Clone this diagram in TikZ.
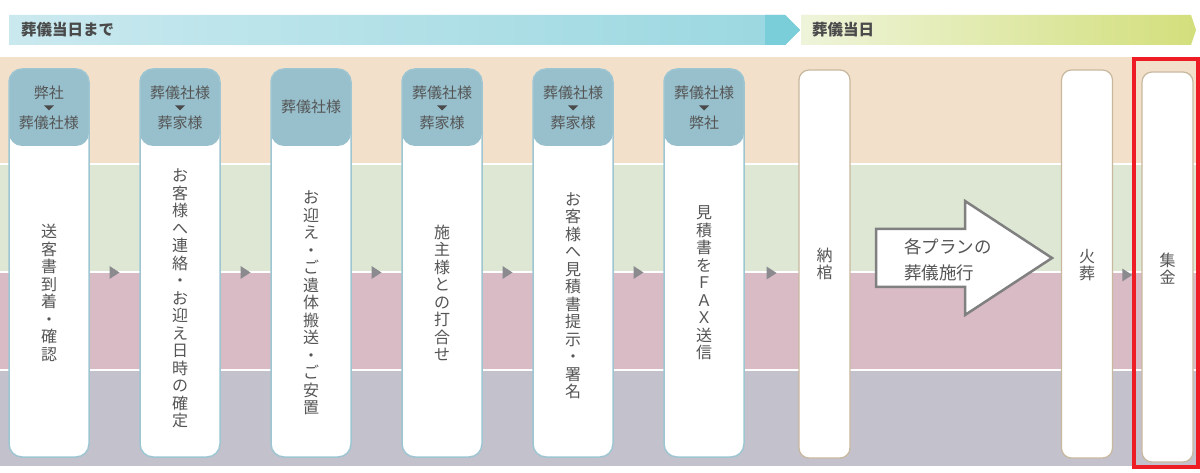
\documentclass[tikz,border=0pt]{standalone}
\usepackage{fontspec}
\setmainfont{Noto Sans CJK JP}
\usetikzlibrary{calc}
\definecolor{bandA}{HTML}{F2E0CB}
\definecolor{bandB}{HTML}{DDE7D3}
\definecolor{bandC}{HTML}{D9BBC6}
\definecolor{bandD}{HTML}{C3C1CC}
\definecolor{colh}{HTML}{97BFCC}
\definecolor{colb}{HTML}{9DC6D2}
\definecolor{tanc}{HTML}{C8B89E}
\definecolor{tric}{HTML}{8A8A8F}
\definecolor{txt}{HTML}{555555}
\definecolor{hdtxt}{HTML}{4A4A4A}
\definecolor{arrb}{HTML}{808080}
\definecolor{redc}{HTML}{EE1C25}
\definecolor{blueL}{HTML}{CAE9EF}
\definecolor{blueR}{HTML}{9AD7E0}
\definecolor{blueD}{HTML}{7ACED9}
\definecolor{greenL}{HTML}{EEF4DA}
\definecolor{greenR}{HTML}{D3DF7C}
\tikzset{
  colbox/.style={draw=colb, line width=1.5pt, fill=white, rounded corners=13pt,
    minimum width=80pt, minimum height=388pt, inner sep=0pt,
    path picture={\fill[colh] (path picture bounding box.north west) rectangle ([yshift=-77pt]path picture bounding box.north east);}},
  tanbox/.style={draw=tanc, line width=1.2pt, fill=white, rounded corners=10pt,
    minimum width=51pt, minimum height=388pt, inner sep=0pt},
  vt/.style={align=center, text=txt, font=\fontsize{16}{17.5}\selectfont, inner sep=0pt},
  hd/.style={text=txt, font=\fontsize{15}{16}\selectfont, inner sep=0pt},
  bantxt/.style={text=hdtxt, font=\bfseries\fontsize{15.5}{16}\selectfont, inner sep=0pt, anchor=west},
}
\newcommand{\hdtri}[1]{\fill[hdtxt] (#1-5,105.5) -- (#1+5,105.5) -- (#1,110.5) -- cycle;}
\newcommand{\steptri}[1]{\fill[tric] ($(#1)+(-5,3)$) -- ($(#1)+(5,9.5)$) -- ($(#1)+(-5,16)$) -- cycle;}
\begin{document}
\begin{tikzpicture}[x=1pt,y=-1pt]
\useasboundingbox (0,0) rectangle (1200,473);
\fill[white] (0,0) rectangle (1200,473);
% banners
\shade[left color=blueL, right color=blueR] (9,15) -- (785,15) -- (800,30) -- (785,45) -- (9,45) -- cycle;
\fill[blueD] (765,15) -- (785,15) -- (800,30) -- (785,45) -- (765,45) -- cycle;
\shade[left color=greenL, right color=greenR] (801,15) -- (1191,15) -- (1196,30) -- (1191,45) -- (801,45) -- cycle;
\node[bantxt] (b1) at (21,30) {葬儀当日まで};
\node[bantxt] (b2) at (812,30) {葬儀当日};
% bands
\fill[bandA] (0,57) rectangle (1197,164);
\fill[bandB] (0,164) rectangle (1197,272);
\fill[bandC] (0,272) rectangle (1197,370);
\fill[bandD] (0,370) rectangle (1197,466);
\draw[white, line width=1.5pt] (0,164) -- (1197,164) (0,272) -- (1197,272) (0,370) -- (1197,370);
% columns
\node[colbox] (c1) at (49,263) {};
\node[colbox] (c2) at (180,263) {};
\node[colbox] (c3) at (311,263) {};
\node[colbox] (c4) at (442,263) {};
\node[colbox] (c5) at (573,263) {};
\node[colbox] (c6) at (704,263) {};
\node[tanbox] (c7) at (824.5,264) {};
\node[tanbox] (c8) at (1087,264) {};
\node[tanbox, minimum height=390pt] (c9) at (1167.5,267) {};
% headers
\node[hd] (h1a) at (49,93) {弊社}; \hdtri{49} \node[hd] (h1b) at (49,123) {葬儀社様};
\node[hd] (h2a) at (180,93) {葬儀社様}; \hdtri{180} \node[hd] (h2b) at (180,123) {葬家様};
\node[hd] (h3) at (311,107) {葬儀社様};
\node[hd] (h4a) at (442,93) {葬儀社様}; \hdtri{442} \node[hd] (h4b) at (442,123) {葬家様};
\node[hd] (h5a) at (573,93) {葬儀社様}; \hdtri{573} \node[hd] (h5b) at (573,123) {葬家様};
\node[hd] (h6a) at (704,93) {葬儀社様}; \hdtri{704} \node[hd] (h6b) at (704,123) {弊社};
% body texts
\node[vt] (t1) at (49,293) {送\\客\\書\\到\\着\\・\\確\\認};
\node[vt] (t2) at (180,298.5) {お\\客\\様\\へ\\連\\絡\\・\\お\\迎\\え\\日\\時\\の\\確\\定};
\node[vt] (t3) at (311,303) {お\\迎\\え\\・\\ご\\遺\\体\\搬\\送\\・\\ご\\安\\置};
\node[vt] (t4) at (442,293) {施\\主\\様\\と\\の\\打\\合\\せ};
\node[vt] (t5) at (573,296) {お\\客\\様\\へ\\見\\積\\書\\提\\示\\・\\署\\名};
\node[vt] (t6) at (704,283) {見\\積\\書\\を\\Ｆ\\Ａ\\Ｘ\\送\\信};
\node[vt] (t7) at (824.5,264) {納\\棺};
\node[vt] (t8) at (1087,265) {火\\葬};
\node[vt] (t9) at (1167.5,268.5) {集\\金};
% step markers
\coordinate (a1) at ($(c1.east)!0.5!(c2.west)$);
\coordinate (a2) at ($(c2.east)!0.5!(c3.west)$);
\coordinate (a3) at ($(c3.east)!0.5!(c4.west)$);
\coordinate (a4) at ($(c4.east)!0.5!(c5.west)$);
\coordinate (a5) at ($(c5.east)!0.5!(c6.west)$);
\coordinate (a6) at ($(c6.east)!0.5!(c7.west)$);
\coordinate (a7) at ($(c8.east)!0.5!(c9.west)$);
\steptri{a1} \steptri{a2} \steptri{a3} \steptri{a4} \steptri{a5} \steptri{a6} \steptri{a7}
% big arrow
\draw[arrb, fill=white, line width=2.5pt, line join=miter]
  (876,229) -- (965,229) -- (965,201) -- (1052,258) -- (965,315) -- (965,287) -- (876,287) -- cycle;
\node[text=txt, font=\fontsize{17.5}{26}\selectfont, align=left, anchor=west, inner sep=0pt] (plan) at (904,260) {各プランの\\葬儀施行};
% highlight
\draw[redc, line width=4pt] (1134,59) rectangle (1198,467);
\end{tikzpicture}
\end{document}
